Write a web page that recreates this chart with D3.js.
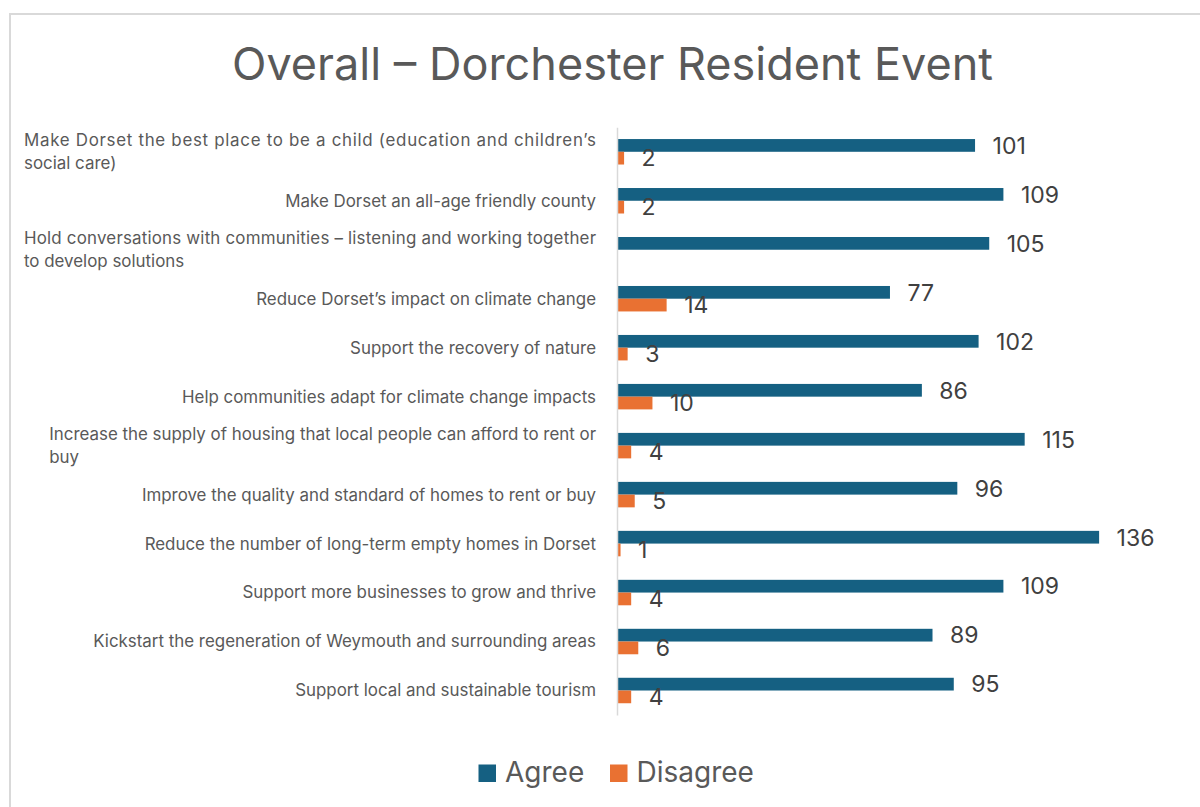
<!DOCTYPE html>
<html>
<head>
<meta charset="utf-8">
<script src="https://cdn.jsdelivr.net/npm/d3@7"></script>
<style>
  html, body { margin: 0; padding: 0; background: #fff; }
  svg { display: block; }
</style>
</head>
<body>
<svg id="chart" width="1200" height="807"></svg>
<script>
// ---- data ----
const categories = [
  "Make Dorset the best place to be a child (education and children’s social care)",
  "Make Dorset an all-age friendly county",
  "Hold conversations with communities – listening and working together to develop solutions",
  "Reduce Dorset’s impact on climate change",
  "Support the recovery of nature",
  "Help communities adapt for climate change impacts",
  "Increase the supply of housing that local people can afford to rent or buy",
  "Improve the quality and standard of homes to rent or buy",
  "Reduce the number of long-term empty homes in Dorset",
  "Support more businesses to grow and thrive",
  "Kickstart the regeneration of Weymouth and surrounding areas",
  "Support local and sustainable tourism"
];
const categoryLines = [
  ["Make Dorset the best place to be a child (education and children’s", "social care)"],
  ["Make Dorset an all-age friendly county"],
  ["Hold conversations with communities – listening and working together", "to develop solutions"],
  ["Reduce Dorset’s impact on climate change"],
  ["Support the recovery of nature"],
  ["Help communities adapt for climate change impacts "],
  ["Increase the supply of housing that local people can afford to rent or", "buy"],
  ["Improve the quality and standard of homes to rent or buy"],
  ["Reduce the number of long-term empty homes in Dorset"],
  ["Support more businesses to grow and thrive"],
  ["Kickstart the regeneration of Weymouth and surrounding areas"],
  ["Support local and sustainable tourism"]
];
const justifiedLabel = [true, false, true, false, false, false, false, false, false, false, false, false];
const seriesNames = ["Agree", "Disagree"];
const agree    = [101, 109, 105, 77, 102, 86, 115, 96, 136, 109, 89, 95];
const disagree = [2, 2, null, 14, 3, 10, 4, 5, 1, 4, 6, 4];
const titleText = "Overall – Dorchester Resident Event";
const xMax = 140;

// ---- drawing ----
const colors = { Agree: "#156082", Disagree: "#E97132" };
const FONT = "Inter, 'Liberation Sans', Arial, sans-serif";
const svg = d3.select("#chart");

// chart border
svg.append("rect")
  .attr("x", 10).attr("y", 14).attr("width", 1200).attr("height", 810)
  .attr("fill", "#fff").attr("stroke", "#d9d9d9").attr("stroke-width", 2);

// title
svg.append("text")
  .attr("x", 612.5).attr("y", 80)
  .attr("text-anchor", "middle")
  .attr("font-family", FONT).attr("font-size", 45)
  .attr("fill", "#595959")
  .text(titleText);

const plotLeft = 617, plotTop = 127.3, plotBottom = 715;
const x = d3.scaleLinear().domain([0, xMax]).range([plotLeft, plotLeft + 3.545 * xMax]);
const y0 = d3.scaleBand().domain(d3.range(categories.length))
  .range([plotTop, plotBottom]).paddingInner(0.48).paddingOuter(0.24);
const y1 = d3.scaleBand().domain(seriesNames).range([0, y0.bandwidth()]);

const rows = categories.map((c, i) => ({ i, Agree: agree[i], Disagree: disagree[i] }));

const g = svg.append("g");
seriesNames.forEach(s => {
  const valid = rows.filter(r => r[s] != null);
  g.selectAll(null).data(valid).join("rect")
    .attr("x", x(0))
    .attr("y", d => y0(d.i) + y1(s))
    .attr("width", d => x(d[s]) - x(0))
    .attr("height", y1.bandwidth())
    .attr("fill", colors[s]);
  g.selectAll(null).data(valid).join("text")
    .attr("x", d => x(d[s]) + 17.5)
    .attr("y", d => y0(d.i) + y1(s) + y1.bandwidth() / 2)
    .attr("dy", "0.36em")
    .attr("font-family", FONT).attr("font-size", 23)
    .attr("fill", "#404040")
    .text(d => d[s]);
});

// axis line (category axis)
const yAxis = d3.axisLeft(d3.scaleLinear().range([plotTop, plotBottom])).ticks(0).tickSize(0).tickFormat("");
svg.append("g").attr("transform", `translate(${plotLeft},0)`).call(yAxis)
  .call(a => a.select(".domain").attr("stroke", "#d9d9d9").attr("stroke-width", 1.5));

// category labels
const labelRight = 596, labelLeft = 24, lineH = 23.5;
const lab = svg.append("g").attr("font-family", FONT).attr("font-size", 16.9).attr("fill", "#595959");
categoryLines.forEach((lines, i) => {
  const cy = y0(i) + y0.bandwidth() / 2;
  const n = lines.length;
  if (n === 1) {
    lab.append("text").attr("x", labelRight).attr("y", cy).attr("dy", "0.35em")
      .attr("text-anchor", "end").text(lines[0]);
  } else {
    const tmp = lab.append("text").attr("x", labelRight).attr("y", cy).attr("opacity", 0).text(lines[0]);
    const nat = tmp.node().getComputedTextLength();
    tmp.remove();
    const blockW = justifiedLabel[i] ? (labelRight - labelLeft) : Math.min(nat, labelRight - labelLeft);
    const bx = labelRight - blockW;
    lines.forEach((ln, k) => {
      const t = lab.append("text").attr("x", bx)
        .attr("y", cy + (k - (n - 1) / 2) * lineH).attr("dy", "0.35em").text(ln);
      if (k < n - 1 && (justifiedLabel[i] || nat > blockW)) {
        t.attr("textLength", blockW).attr("lengthAdjust", "spacing");
      }
    });
  }
});

// legend
const legend = svg.append("g").attr("font-family", FONT).attr("font-size", 28).attr("fill", "#595959");
const legendX = { Agree: 478.5, Disagree: 610 };
seriesNames.forEach(s => {
  legend.append("rect").attr("x", legendX[s]).attr("y", 764.5).attr("width", 17.5).attr("height", 17.5).attr("fill", colors[s]);
  legend.append("text").attr("x", legendX[s] + 26.5).attr("y", 781.7).text(s);
});
</script>
</body>
</html>
